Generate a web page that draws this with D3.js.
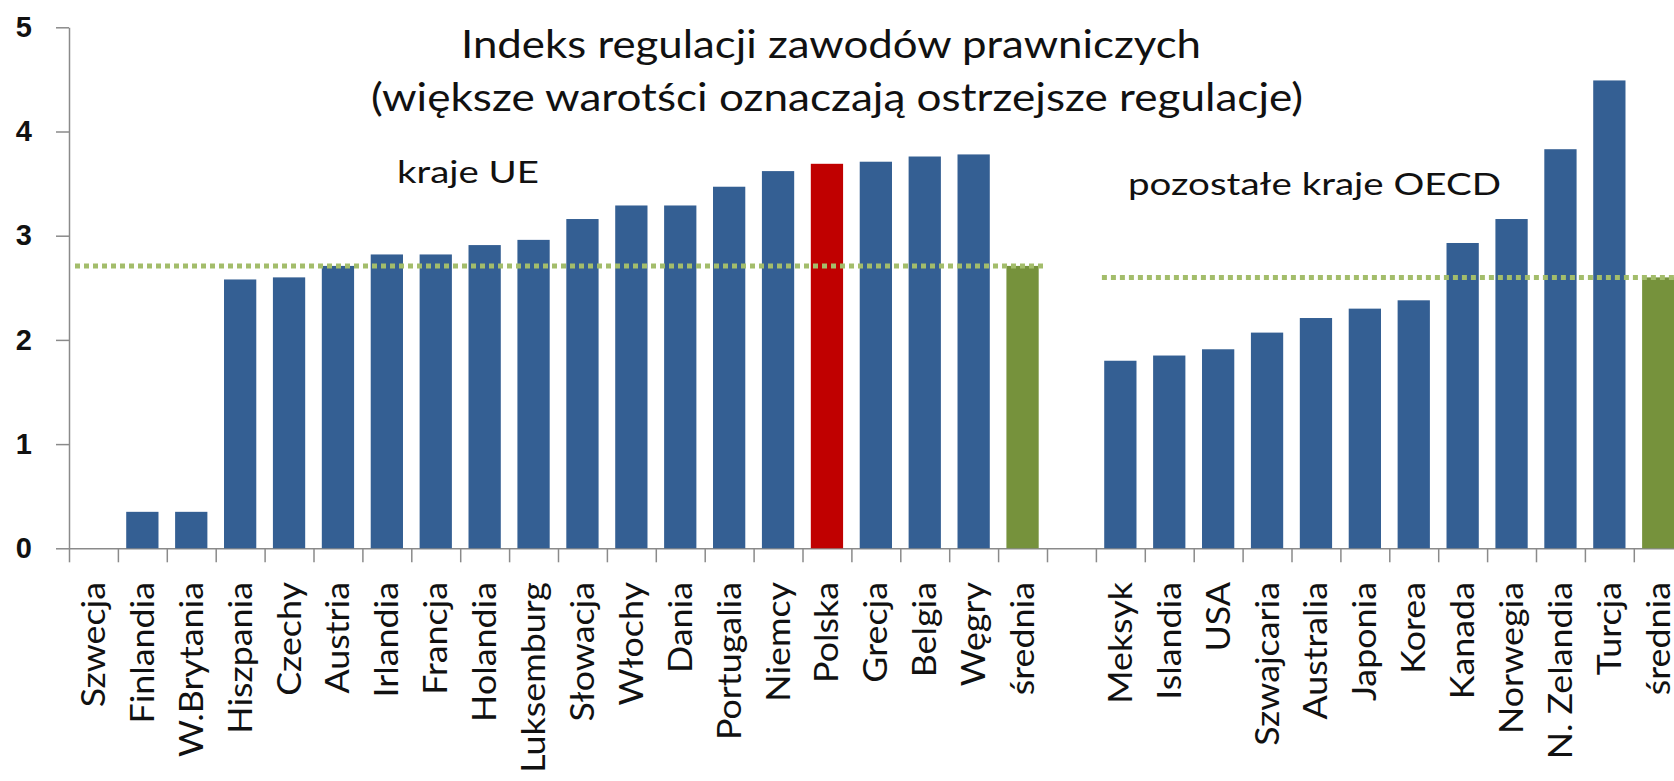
<!DOCTYPE html>
<html>
<head>
<meta charset="utf-8">
<script src="https://cdn.jsdelivr.net/npm/d3@7"></script>
<style>
  html, body { margin: 0; padding: 0; background: #fff; overflow: hidden; }
  svg { display: block; font-family: Lato, "Open Sans", sans-serif; }
  .axis path, .axis line { stroke: #8a8a8a; stroke-width: 1.5; }
  .axis--y text { font-size: 29px; font-weight: 700; fill: #111; }
</style>
</head>
<body>
<div id="chart"></div>
<script>
const euCountries = [`Szwecja`, `Finlandia`, `W.Brytania`, `Hiszpania`, `Czechy`, `Austria`, `Irlandia`, `Francja`, `Holandia`, `Luksemburg`,
  `Słowacja`, `Włochy`, `Dania`, `Portugalia`, `Niemcy`, `Polska`, `Grecja`, `Belgia`, `Węgry`];
const euValues = [0, 0.35, 0.35, 2.58, 2.60, 2.71, 2.82, 2.82, 2.91, 2.96,
  3.16, 3.29, 3.29, 3.47, 3.62, 3.69, 3.71, 3.76, 3.78];
const euAverage = 2.71;

const oecdCountries = [`Meksyk`, `Islandia`, `USA`, `Szwajcaria`, `Australia`, `Japonia`, `Korea`, `Kanada`, `Norwegia`, `N. Zelandia`, `Turcja`];
const oecdValues = [1.80, 1.85, 1.91, 2.07, 2.21, 2.30, 2.38, 2.93, 3.16, 3.83, 4.49];
const oecdAverage = 2.60;

const highlighted = `Polska`;
const averageLabel = `średnia`;
const yTicks = [0, 1, 2, 3, 4, 5];

const titleLines = [`Indeks regulacji zawodów prawniczych`, `(większe warotści oznaczają ostrzejsze regulacje)`];
const groupLabels = [`kraje UE`, `pozostałe kraje OECD`];

const width = 1674;
const height = 781;
const left = 69;
const step = 48.9;

// one slot per category, with an empty slot between the two groups
const slots = [
  ...euCountries.map((name, i) => ({ key: `eu-${i}`, label: name, value: euValues[i], kind: name === highlighted ? `highlight` : `country` })),
  { key: `eu-avg`, label: averageLabel, value: euAverage, kind: `average` },
  { key: `gap`, label: ``, value: null, kind: `gap` },
  ...oecdCountries.map((name, i) => ({ key: `oecd-${i}`, label: name, value: oecdValues[i], kind: `country` })),
  { key: `oecd-avg`, label: averageLabel, value: oecdAverage, kind: `average` }
];

const colors = { country: `#345f93`, highlight: `#c00000`, average: `#76923c` };

const svg = d3.select(`#chart`).append(`svg`)
    .attr(`width`, width)
    .attr(`height`, height);

const x = d3.scaleBand()
    .domain(slots.map((d) => d.key))
    .range([left, left + slots.length * step])
    .paddingInner(0.34)
    .paddingOuter(0.17);

const y = d3.scaleLinear()
    .domain([0, 5])
    .range([548.3, 27.3]);

// tick marks sit between categories, as in the original
const slotEdges = d3.scaleLinear()
    .domain([0, slots.length])
    .range(x.range());

svg.append(`g`)
    .attr(`class`, `axis axis--x`)
    .attr(`transform`, `translate(0,${y(0)})`)
    .call(d3.axisBottom(slotEdges).tickValues(d3.range(slots.length + 1)).tickSizeInner(14).tickSizeOuter(0).tickFormat(``));

svg.append(`g`)
    .attr(`class`, `axis axis--y`)
    .attr(`transform`, `translate(${left},0)`)
    .call(d3.axisLeft(y).tickValues(yTicks).tickSizeInner(13).tickSizeOuter(0).tickPadding(24).tickFormat(d3.format(`d`)));

svg.append(`g`)
  .selectAll(`rect`)
    .data(slots.filter((d) => d.value))
  .enter().append(`rect`)
    .attr(`x`, (d) => x(d.key))
    .attr(`width`, x.bandwidth())
    .attr(`y`, (d) => y(d.value))
    .attr(`height`, (d) => y(0) - y(d.value))
    .attr(`fill`, (d) => colors[d.kind]);

// dotted average lines across each group
const averageLines = [
  { from: `eu-0`, to: `eu-avg`, value: euAverage },
  { from: `oecd-0`, to: `oecd-avg`, value: oecdAverage }
];

svg.append(`g`)
  .selectAll(`line`)
    .data(averageLines)
  .enter().append(`line`)
    .attr(`x1`, (d) => x(d.from) - x.step() * x.paddingInner() / 2 + 6)
    .attr(`x2`, (d) => x(d.to) + x.bandwidth() + x.step() * x.paddingInner() / 2)
    .attr(`y1`, (d) => y(d.value))
    .attr(`y2`, (d) => y(d.value))
    .attr(`stroke`, `#a3bd6b`)
    .attr(`stroke-width`, 5)
    .attr(`stroke-dasharray`, `5,4`);

svg.append(`g`)
  .selectAll(`text`)
    .data(slots.filter((d) => d.label))
  .enter().append(`text`)
    .attr(`transform`, (d) => `translate(${x(d.key) + x.bandwidth() / 2},582) rotate(-90) scale(1.12,1)`)
    .attr(`text-anchor`, `end`)
    .attr(`dy`, `0.36em`)
    .attr(`font-size`, 32)
    .attr(`fill`, `#111`)
    .text((d) => d.label);

const title = svg.append(`g`).attr(`fill`, `#111`).attr(`font-size`, 38);

title.append(`text`)
    .attr(`x`, 461)
    .attr(`y`, 58)
    .attr(`textLength`, 740)
    .attr(`lengthAdjust`, `spacingAndGlyphs`)
    .text(titleLines[0]);

title.append(`text`)
    .attr(`x`, 371)
    .attr(`y`, 111)
    .attr(`textLength`, 932)
    .attr(`lengthAdjust`, `spacingAndGlyphs`)
    .text(titleLines[1]);

svg.append(`text`)
    .attr(`x`, 397)
    .attr(`y`, 183)
    .attr(`font-size`, 31)
    .attr(`fill`, `#111`)
    .attr(`textLength`, 142)
    .attr(`lengthAdjust`, `spacingAndGlyphs`)
    .text(groupLabels[0]);

svg.append(`text`)
    .attr(`x`, 1128)
    .attr(`y`, 195)
    .attr(`font-size`, 31)
    .attr(`fill`, `#111`)
    .attr(`textLength`, 373)
    .attr(`lengthAdjust`, `spacingAndGlyphs`)
    .text(groupLabels[1]);
</script>
</body>
</html>
